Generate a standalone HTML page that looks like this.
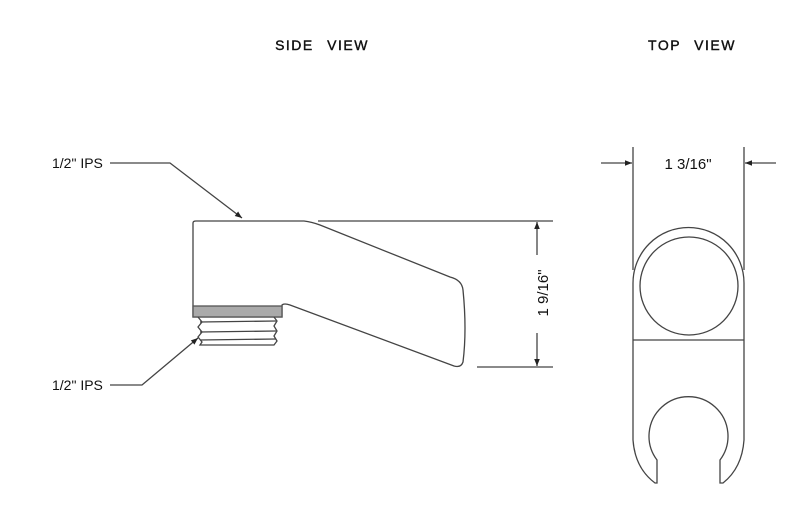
<!DOCTYPE html>
<html><head><meta charset="utf-8"><style>
html,body{margin:0;padding:0;background:#fff;width:800px;height:508px;overflow:hidden}
</style></head><body>
<svg width="800" height="508" viewBox="0 0 800 508" xmlns="http://www.w3.org/2000/svg">
<defs>
<marker id="ar" viewBox="0 0 10 10" refX="10" refY="5" markerWidth="9" markerHeight="7" orient="auto" markerUnits="userSpaceOnUse">
<path d="M0,1 L10,5 L0,9 Z" fill="#222"/></marker>
</defs>
<g font-family="'Liberation Sans',sans-serif" fill="#111">
<text x="322" y="50" font-size="14" text-anchor="middle" letter-spacing="1.5" word-spacing="8" stroke="#111" stroke-width="0.4">SIDE VIEW</text>
<text x="692" y="50" font-size="14" text-anchor="middle" letter-spacing="1.5" word-spacing="8" stroke="#111" stroke-width="0.4">TOP VIEW</text>
<text x="52" y="168" font-size="14">1/2" IPS</text>
<text x="52" y="390" font-size="14">1/2" IPS</text>
<text x="688" y="169" font-size="15" text-anchor="middle">1 3/16"</text>
<text transform="translate(543,293) rotate(-90)" font-size="15" text-anchor="middle" dy="5">1 9/16"</text>
</g>
<g fill="none" stroke="#444" stroke-width="1.3">
<polyline points="110,163 170,163 242,218" marker-end="url(#ar)"/>
<polyline points="110,385 142,385 198,338" marker-end="url(#ar)"/>
<path d="M193,223 Q193,221 196,221 L304,221 Q312,222 320,225 L450,277 Q462,280 463,290 Q467,330 463,362 Q461,368 454,366 L290,305 Q284,303 282,305 L282,317 L193,317 Z"/>
<rect x="193" y="306" width="89" height="11" fill="#aaa" stroke="#555"/>
<path d="M198,317 L202,322 L198,327 L202,332 L198,337 L202,342 L200,345 L274,345 L277,341 L274,336 L277,331 L274,326 L277,321 L274,317" />
<line x1="200" y1="322" x2="276" y2="321"/><line x1="200" y1="332" x2="276" y2="331"/><line x1="200" y1="340" x2="276" y2="339"/>
<line x1="318" y1="221" x2="553" y2="221"/>
<line x1="477" y1="367" x2="553" y2="367"/>
<line x1="537" y1="255" x2="537" y2="222" marker-end="url(#ar)"/>
<line x1="537" y1="333" x2="537" y2="366" marker-end="url(#ar)"/>
<line x1="633" y1="147" x2="633" y2="270"/>
<line x1="744" y1="147" x2="744" y2="270"/>
<line x1="601" y1="163" x2="632" y2="163" marker-end="url(#ar)"/>
<line x1="776" y1="163" x2="745" y2="163" marker-end="url(#ar)"/>
<path d="M633,283 A55.5,55.5 0 0 1 744,283 L744,440 Q742,468 723,483 L720,483 L720,460 A39.5,39.5 0 1 0 657,460 L657,483 L655,483 Q635,468 633,440 Z"/>
<line x1="633" y1="340" x2="744" y2="340"/>
<circle cx="689" cy="286" r="49"/>
</g>
</svg>
</body></html>
